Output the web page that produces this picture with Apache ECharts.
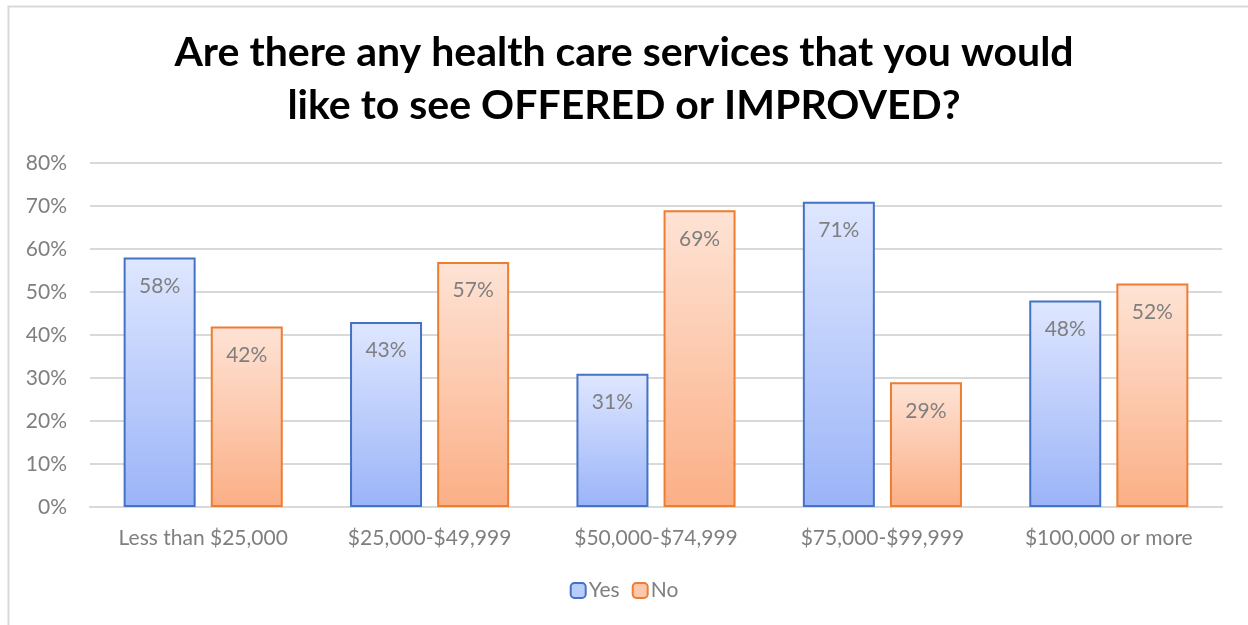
<!DOCTYPE html>
<html><head><meta charset="utf-8">
<script src="https://cdn.jsdelivr.net/npm/echarts@6/dist/echarts.min.js"></script>
<style>html,body{margin:0;padding:0;background:#fff}#c{width:1248px;height:625px}</style>
</head><body><div id="c"></div>
<script>
const categories = ['Less than $25,000', '$25,000-$49,999', '$50,000-$74,999', '$75,000-$99,999', '$100,000 or more'];
const yesValues = [58, 43, 31, 71, 48];
const noValues = [42, 57, 69, 29, 52];
const seriesNames = ['Yes', 'No'];
const titleText = 'Are there any health care services that you would\nlike to see OFFERED or IMPROVED?';

const FONT = 'Lato, "Open Sans", sans-serif';
const chart = echarts.init(document.getElementById('c'));
function grad(top, bottom) {
  return new echarts.graphic.LinearGradient(0, 0, 0, 1, [{offset: 0, color: top}, {offset: 1, color: bottom}]);
}
const labelCfg = {show: true, position: 'insideTop', distance: 18, formatter: p => p.value + '%', color: '#7f7f7f', fontSize: 21, fontFamily: FONT};
chart.setOption({
  animation: false,
  graphic: [{type: 'rect', shape: {x: 8.5, y: 6.5, width: 1260, height: 640}, style: {fill: 'none', stroke: '#d9d9d9', lineWidth: 2}, silent: true}],
  title: {text: titleText, left: 'center', top: 21, textStyle: {fontFamily: FONT, fontWeight: 'bold', fontSize: 41, lineHeight: 53, color: '#000'}},
  legend: {bottom: 19, left: 'center', itemWidth: 15, itemHeight: 15, itemGap: 12, textStyle: {color: '#7f7f7f', fontSize: 21, fontFamily: FONT, padding: [0, 0, 0, -2]},
    data: [{name: 'Yes', itemStyle: {color: '#b9cdfb', borderColor: '#4472c4', borderWidth: 2}}, {name: 'No', itemStyle: {color: '#fcc7ab', borderColor: '#ed7d31', borderWidth: 2}}]},
  grid: {left: 90, right: 26, top: 163, bottom: 118},
  xAxis: {type: 'category', data: categories, axisLine: {lineStyle: {color: '#d9d9d9', width: 2}}, axisTick: {show: false},
    axisLabel: {color: '#7f7f7f', fontSize: 21, fontFamily: FONT, margin: 21}},
  yAxis: {type: 'value', min: 0, max: 80, interval: 10, axisLabel: {formatter: '{value}%', color: '#7f7f7f', fontSize: 21, fontFamily: FONT, margin: 23},
    splitLine: {lineStyle: {color: '#d9d9d9', width: 2}}, axisLine: {show: false}},
  series: [
    {name: seriesNames[0], type: 'bar', data: yesValues, barWidth: 72, barGap: '21%',
      itemStyle: {color: grad('#dfe7ff', '#9bb4f8'), borderColor: '#4472c4', borderWidth: 2}, label: labelCfg},
    {name: seriesNames[1], type: 'bar', data: noValues, barWidth: 72, barGap: '21%',
      itemStyle: {color: grad('#fee3d5', '#fbaf86'), borderColor: '#ed7d31', borderWidth: 2}, label: labelCfg}
  ]
});
</script></body></html>
